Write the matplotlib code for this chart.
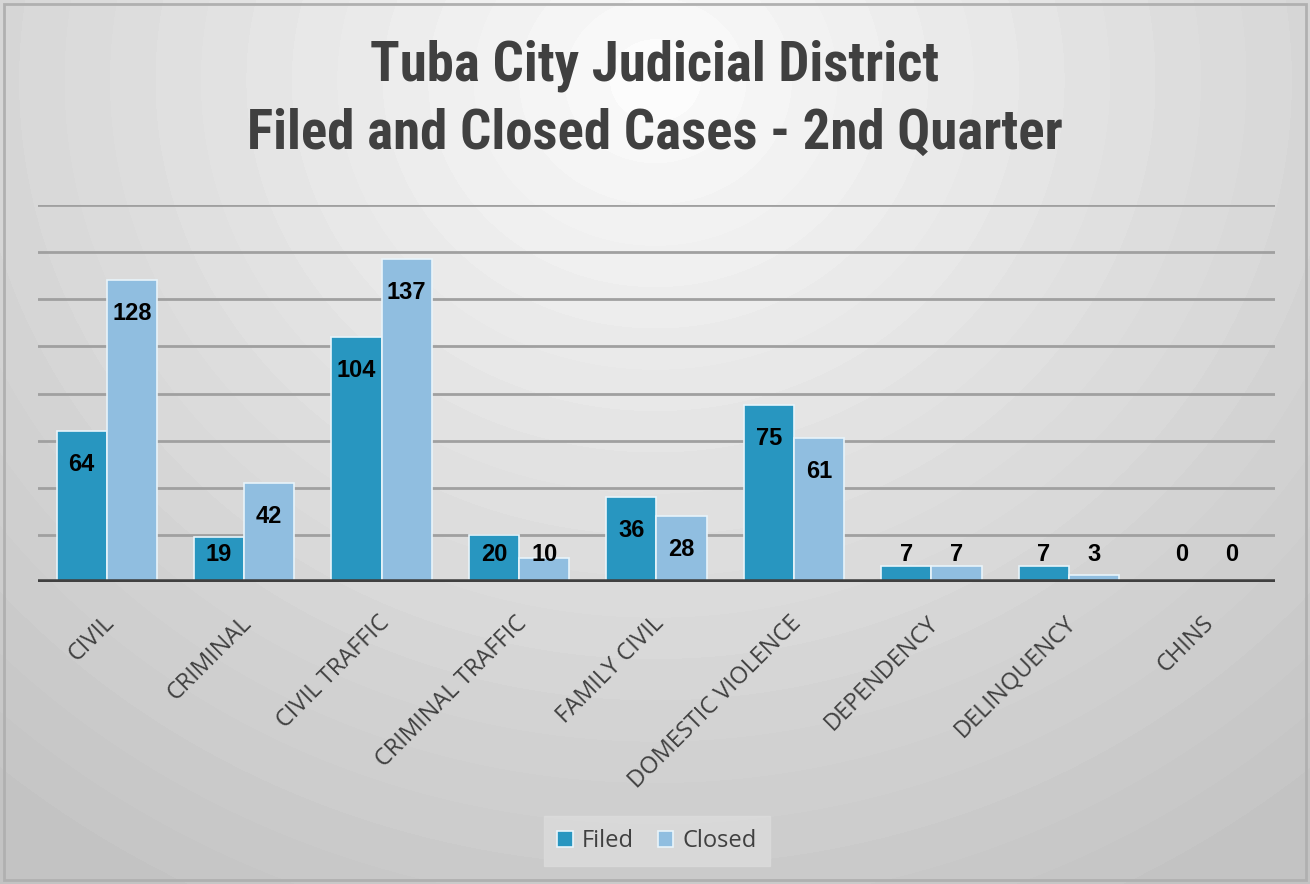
import numpy as np
import matplotlib.pyplot as plt
import matplotlib.transforms as mtransforms
from matplotlib.patches import Rectangle

categories = ["CIVIL", "CRIMINAL", "CIVIL TRAFFIC", "CRIMINAL TRAFFIC", "FAMILY CIVIL",
              "DOMESTIC VIOLENCE", "DEPENDENCY", "DELINQUENCY", "CHINS"]
filed = [64, 19, 104, 20, 36, 75, 7, 7, 0]
closed = [128, 42, 137, 10, 28, 61, 7, 3, 0]

FILED_COLOR = "#2896c0"
CLOSED_COLOR = "#90bee0"
TEXT_COLOR = "#404040"

TITLE_FONT = ["Roboto Condensed", "Archivo Narrow", "Asap Condensed", "DejaVu Sans"]
LABEL_FONT = ["Open Sans", "DejaVu Sans"]
NUM_FONT = ["Liberation Sans", "DejaVu Sans"]

fig = plt.figure(figsize=(13.1, 8.84), dpi=100)

# radial gradient background
bg = fig.add_axes([0, 0, 1, 1], zorder=-10)
yy, xx = np.mgrid[0:884, 0:1310]
r = np.sqrt((xx - 655.0) ** 2 + ((yy - 80.0) * 1.1) ** 2)
r = np.clip(r / 1000.0, 0, 1)
r = np.floor(r * 22) / 22  # banding like the original
shade = 0.985 - 0.22 * r ** 0.9
bg.imshow(shade, cmap="gray", vmin=0, vmax=1, aspect="auto", extent=[0, 1, 0, 1], origin="upper")
bg.add_patch(Rectangle((0.003, 0.004), 0.994, 0.992, transform=bg.transAxes,
                       fill=False, edgecolor="#b0b0b0", linewidth=2))
bg.set_xlim(0, 1)
bg.set_ylim(0, 1)
bg.axis("off")

ax = fig.add_axes([38 / 1310, 1 - 582 / 884, (1275 - 38) / 1310, (582 - 205) / 884])
ax.patch.set_alpha(0)

x = np.arange(len(categories))
w = 0.365
ax.bar(x - w / 2, filed, w, color=FILED_COLOR, edgecolor="#e8f4fa", linewidth=1.2, zorder=3, label="Filed")
ax.bar(x + w / 2, closed, w, color=CLOSED_COLOR, edgecolor="#e8f4fa", linewidth=1.2, zorder=3, label="Closed")

for xi, v in zip(x - w / 2, filed):
    ax.text(xi, max(v - 14.2, 11.5), str(v), ha="center", va="center", fontsize=17,
            fontweight="bold", color="black", zorder=5, family=NUM_FONT)
for xi, v in zip(x + w / 2, closed):
    ax.text(xi, max(v - 14.2, 11.5), str(v), ha="center", va="center", fontsize=17,
            fontweight="bold", color="black", zorder=5, family=NUM_FONT)

ax.set_xlim(-0.5, len(categories) - 0.5)
ax.set_ylim(0, 160)
ax.set_yticks(np.arange(20, 161, 20))
ax.yaxis.grid(True, color="#a0a0a0", linewidth=2, zorder=0)
ax.axhline(0, color="#404040", linewidth=4, zorder=4)
ax.tick_params(left=False, bottom=False, labelleft=False, labelbottom=False)
for s in ax.spines.values():
    s.set_visible(False)

# rotated category labels
trans = mtransforms.blended_transform_factory(ax.transData, ax.transAxes)
for xi, c in zip(x, categories):
    ax.text(xi + 0.03, -0.1, c, transform=trans, rotation=45, rotation_mode="anchor",
            ha="right", va="center", fontsize=17, color=TEXT_COLOR, family=LABEL_FONT)

fig.text(0.5, 0.926, "Tuba City Judicial District", ha="center", va="center", fontsize=39.5,
         fontweight="bold", color=TEXT_COLOR, family=TITLE_FONT)
fig.text(0.5, 0.849, "Filed and Closed Cases - 2nd Quarter", ha="center", va="center", fontsize=39.5,
         fontweight="bold", color=TEXT_COLOR, family=TITLE_FONT)

leg = fig.legend(loc="center", bbox_to_anchor=(657 / 1310, 1 - 841 / 884), ncol=2, frameon=True,
                 prop={"family": LABEL_FONT, "size": 17}, handlelength=0.65, handleheight=0.65,
                 columnspacing=1.0, handletextpad=0.4, fancybox=False, borderpad=0.55)
leg.get_frame().set_facecolor("#dcdcdc")
leg.get_frame().set_edgecolor("#dcdcdc")
for t in leg.get_texts():
    t.set_color(TEXT_COLOR)

fig.savefig("out.png", dpi=100)
